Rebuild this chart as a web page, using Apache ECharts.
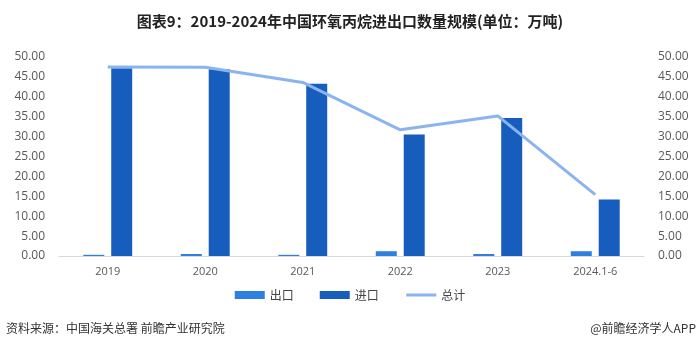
<!DOCTYPE html>
<html>
<head>
<meta charset="utf-8">
<script src="https://cdn.jsdelivr.net/npm/echarts@6/dist/echarts.min.js"></script>
<style>
  html, body { margin: 0; padding: 0; background: #fff; }
  #chart { width: 700px; height: 353px; }
</style>
</head>
<body>
<div id="chart"></div>
<script>
const categories = ["2019", "2020", "2021", "2022", "2023", "2024.1-6"];
const exportVals = [0.3, 0.5, 0.3, 1.2, 0.5, 1.2];
const importVals = [47.2, 46.9, 43.3, 30.5, 34.7, 14.2];
const totalVals = [47.5, 47.4, 43.6, 31.7, 35.2, 15.4];

let myChart = echarts.init(document.getElementById("chart"), null, { renderer: "canvas" });

const axisLabelStyle = {
  color: "#595959",
  fontSize: 12,
  fontFamily: "Open Sans",
  margin: 14,
  formatter: (v) => v.toFixed(2)
};

let option = {
  animation: false,
  title: {
    text: "图表9：2019-2024年中国环氧丙烷进出口数量规模(单位：万吨)",
    left: "center",
    top: 9,
    textStyle: { fontSize: 15, fontWeight: "bold", color: "#222", fontFamily: "Noto Sans CJK SC" }
  },
  legend: {
    bottom: 47,
    left: "center",
    itemWidth: 30,
    itemHeight: 8,
    itemGap: 26,
    textStyle: { fontSize: 12, color: "#444", fontFamily: "Noto Sans CJK SC" },
    data: [
      { name: "出口", icon: "rect" },
      { name: "进口", icon: "rect" },
      { name: "总计", itemStyle: { opacity: 0 }, lineStyle: { width: 3, color: "#8AB4EF" } }
    ]
  },
  grid: { left: 59, right: 56, top: 57, bottom: 97 },
  xAxis: {
    type: "category",
    data: categories,
    axisLine: { lineStyle: { color: "#D9D9D9" } },
    axisTick: { show: false },
    axisLabel: { color: "#595959", fontSize: 11, fontFamily: "Open Sans", margin: 10 }
  },
  yAxis: [
    {
      type: "value", min: 0, max: 50, interval: 5,
      splitLine: { show: false },
      axisLabel: axisLabelStyle
    },
    {
      type: "value", min: 0, max: 50, interval: 5,
      splitLine: { show: false },
      axisLabel: axisLabelStyle
    }
  ],
  series: [
    {
      name: "出口", type: "bar", data: exportVals,
      barWidth: 21, barGap: "33%",
      itemStyle: { color: "#2F7FE0" }
    },
    {
      name: "进口", type: "bar", data: importVals,
      barWidth: 21,
      itemStyle: { color: "#165DBE" }
    },
    {
      name: "总计", type: "line", data: totalVals,
      symbol: "none",
      lineStyle: { color: "#8AB4EF", width: 3 },
      itemStyle: { color: "#8AB4EF" }
    }
  ],
  graphic: [
    {
      type: "text", left: 6, top: 322,
      style: { text: "资料来源：中国海关总署 前瞻产业研究院", fontSize: 12, fill: "#333", fontFamily: "Noto Sans CJK SC" }
    },
    {
      type: "text", right: 4, top: 322,
      style: { text: "@前瞻经济学人APP", fontSize: 12, fill: "#333", fontFamily: "Noto Sans CJK SC" }
    }
  ]
};

myChart.setOption(option);
window.addEventListener("resize", myChart.resize);
</script>
</body>
</html>
